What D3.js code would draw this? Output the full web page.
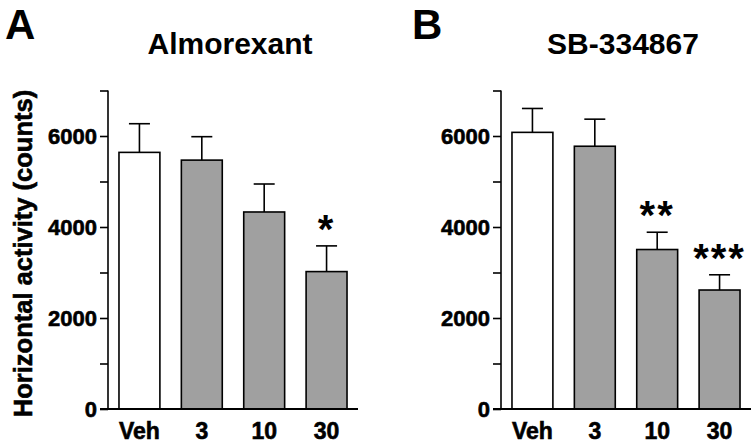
<!DOCTYPE html>
<html><head><meta charset="utf-8">
<script src="https://cdn.jsdelivr.net/npm/d3@7"></script>
<style>body{margin:0;background:#fff;}svg{display:block;}text{font-family:"Liberation Sans",Arial,sans-serif;font-weight:bold;fill:#000;}</style>
</head><body>
<svg id="chart" width="755" height="446"></svg>
<script>
const categories = ["Veh", "3", "10", "30"];
const almorexantMean = [5640, 5470, 4330, 3020];
const almorexantErrTop = [6270, 5985, 4945, 3585];
const almorexantStars = ["", "", "", "*"];
const sbMean = [6080, 5775, 3505, 2615];
const sbErrTop = [6605, 6370, 3885, 2950];
const sbStars = ["", "", "**", "***"];
const yTicksMajor = [0, 2000, 4000, 6000];
const yTicksAll = [0, 1000, 2000, 3000, 4000, 5000, 6000, 7000];
const panels = [
  {letter: "A", title: "Almorexant", mean: almorexantMean, err: almorexantErrTop, stars: almorexantStars},
  {letter: "B", title: "SB-334867", mean: sbMean, err: sbErrTop, stars: sbStars}
];

const svg = d3.select("#chart");
const y = d3.scaleLinear().domain([0, 7000]).range([409, 90.5]);
const axisX = [108, 501];
const letterX = [5, 412];
const FONT = '"Liberation Sans",Arial,sans-serif';

function heavy(sel, size) {
  sel.style("font-family", FONT).style("font-weight", "bold").style("font-size", size + "px")
     .attr("fill", "#000").attr("stroke", "#000").attr("stroke-width", 0.6);
}

panels.forEach((p, i) => {
  const x0 = axisX[i];
  const x = d3.scaleBand().domain(categories).range([x0, x0 + 250]).paddingInner(0.344).paddingOuter(0.176);
  const g = svg.append("g");

  g.append("text").attr("x", letterX[i]).attr("y", 39).attr("font-size", 42).text(p.letter);
  g.append("text").attr("x", x0 + 122).attr("y", 54).attr("font-size", 30).attr("text-anchor", "middle").text(p.title);

  const yAxis = d3.axisLeft(y).tickValues(yTicksAll).tickSize(8).tickPadding(3)
    .tickFormat(d => yTicksMajor.includes(d) ? d : "");
  const ya = g.append("g").attr("transform", `translate(${x0},0)`).call(yAxis);
  ya.select(".domain").attr("stroke", "#000").attr("stroke-width", 1.6).attr("d", `M0,${y(7000)}V${y(0)}`);
  ya.selectAll(".tick line").attr("stroke", "#000").attr("stroke-width", 1.6);
  heavy(ya.selectAll(".tick text"), 22);

  g.selectAll("rect.bar").data(p.mean).join("rect")
    .attr("x", (d, j) => x(categories[j]))
    .attr("y", d => y(d))
    .attr("width", x.bandwidth())
    .attr("height", d => y(0) - y(d))
    .attr("fill", (d, j) => j === 0 ? "#fff" : "#a0a0a0")
    .attr("stroke", "#000").attr("stroke-width", 1.6);

  const cx = j => x(categories[j]) + x.bandwidth() / 2;
  p.err.forEach((e, j) => {
    g.append("line").attr("x1", cx(j)).attr("x2", cx(j)).attr("y1", y(p.mean[j])).attr("y2", y(e)).attr("stroke", "#000").attr("stroke-width", 1.6);
    g.append("line").attr("x1", cx(j) - 10.5).attr("x2", cx(j) + 10.5).attr("y1", y(e)).attr("y2", y(e)).attr("stroke", "#000").attr("stroke-width", 1.6);
    if (p.stars[j]) {
      g.append("text").attr("x", cx(j)).attr("y", y(e) - 3).attr("font-size", 40).attr("letter-spacing", 2).attr("text-anchor", "middle").text(p.stars[j]);
    }
  });

  const xAxis = d3.axisBottom(x).tickSize(0).tickPadding(14);
  const xa = g.append("g").attr("transform", `translate(0,${y(0)})`).call(xAxis);
  xa.select(".domain").attr("stroke", "#000").attr("stroke-width", 1.8).attr("d", `M${x0 - 8},0H${x0 + 250}`);
  heavy(xa.selectAll(".tick text"), 23);
});

heavy(svg.append("text").attr("transform", "translate(32,253.5) rotate(-90)").attr("text-anchor", "middle")
  .text("Horizontal activity (counts)"), 25.5);
</script>
</body></html>
